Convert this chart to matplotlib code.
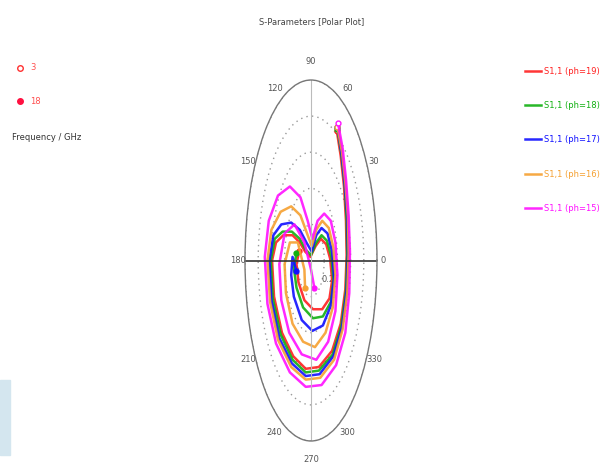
import matplotlib.pyplot as plt
import numpy as np
from matplotlib.lines import Line2D
from matplotlib.patches import Rectangle

labels = ["S1,1 (ph=19)", "S1,1 (ph=18)", "S1,1 (ph=17)", "S1,1 (ph=16)", "S1,1 (ph=15)"]
colors = ["#ff2020", "#10b010", "#1010ff", "#f5a030", "#ff10ff"]

re_19 = [0.39, 0.45, 0.50, 0.53, 0.54, 0.52, 0.45, 0.32, 0.12, -0.08, -0.27, -0.44, -0.56, -0.59,
         -0.53, -0.42, -0.28, -0.17, -0.09, -0.01, 0.07, 0.15, 0.23, 0.29, 0.32, 0.28, 0.17, 0.03,
         -0.10, -0.19, -0.22, -0.18]
im_19 = [0.72, 0.58, 0.41, 0.22, 0.03, -0.16, -0.35, -0.50, -0.59, -0.60, -0.53, -0.40, -0.20, 0.00,
         0.10, 0.14, 0.14, 0.10, 0.05, 0.02, 0.08, 0.12, 0.09, 0.01, -0.11, -0.21, -0.27, -0.27,
         -0.22, -0.12, -0.02, 0.05]

re_18 = [0.40, 0.46, 0.51, 0.54, 0.55, 0.53, 0.46, 0.33, 0.12, -0.08, -0.28, -0.46, -0.58, -0.61,
         -0.55, -0.43, -0.29, -0.17, -0.08, 0.00, 0.08, 0.16, 0.24, 0.31, 0.34, 0.30, 0.18, 0.03,
         -0.12, -0.22, -0.26, -0.22]
im_18 = [0.73, 0.59, 0.42, 0.23, 0.03, -0.17, -0.36, -0.52, -0.61, -0.62, -0.55, -0.41, -0.21, 0.00,
         0.12, 0.16, 0.16, 0.12, 0.06, 0.03, 0.10, 0.14, 0.11, 0.02, -0.11, -0.23, -0.31, -0.32,
         -0.26, -0.15, -0.04, 0.04]

re_17 = [0.40, 0.46, 0.51, 0.55, 0.56, 0.54, 0.47, 0.34, 0.13, -0.08, -0.29, -0.48, -0.60, -0.63,
         -0.57, -0.45, -0.30, -0.17, -0.07, 0.01, 0.08, 0.16, 0.25, 0.32, 0.35, 0.30, 0.18, 0.02,
         -0.14, -0.26, -0.30, -0.28, -0.22]
im_17 = [0.74, 0.60, 0.43, 0.24, 0.04, -0.17, -0.37, -0.53, -0.63, -0.64, -0.57, -0.43, -0.22, 0.00,
         0.14, 0.20, 0.21, 0.17, 0.10, 0.05, 0.14, 0.18, 0.15, 0.05, -0.10, -0.25, -0.36, -0.39,
         -0.33, -0.20, -0.08, 0.02, -0.06]

re_16 = [0.40, 0.47, 0.52, 0.56, 0.57, 0.55, 0.48, 0.35, 0.14, -0.08, -0.30, -0.50, -0.62, -0.66,
         -0.60, -0.46, -0.30, -0.16, -0.06, 0.01, 0.08, 0.17, 0.27, 0.34, 0.37, 0.33, 0.22, 0.06,
         -0.12, -0.28, -0.38, -0.40, -0.32, -0.20, -0.10, -0.09]
im_16 = [0.74, 0.60, 0.43, 0.24, 0.04, -0.18, -0.38, -0.55, -0.65, -0.66, -0.59, -0.44, -0.23, 0.00,
         0.17, 0.27, 0.30, 0.25, 0.15, 0.08, 0.17, 0.22, 0.18, 0.07, -0.08, -0.26, -0.40, -0.48,
         -0.45, -0.35, -0.18, -0.02, 0.10, 0.10, -0.05, -0.15]

re_15 = [0.41, 0.48, 0.53, 0.57, 0.59, 0.58, 0.52, 0.38, 0.16, -0.08, -0.32, -0.53, -0.66, -0.70,
         -0.64, -0.50, -0.32, -0.16, -0.05, 0.02, 0.10, 0.20, 0.30, 0.37, 0.40, 0.37, 0.26, 0.08,
         -0.14, -0.33, -0.45, -0.48, -0.40, -0.25, -0.10, 0.00, 0.05]
im_15 = [0.76, 0.62, 0.45, 0.25, 0.05, -0.18, -0.40, -0.58, -0.69, -0.70, -0.62, -0.46, -0.24, 0.02,
         0.22, 0.36, 0.41, 0.35, 0.22, 0.12, 0.22, 0.26, 0.22, 0.10, -0.08, -0.28, -0.45, -0.55,
         -0.52, -0.40, -0.22, -0.02, 0.15, 0.20, 0.10, -0.05, -0.15]

traces = [(re_19, im_19), (re_18, im_18), (re_17, im_17), (re_16, im_16), (re_15, im_15)]

angle_ticks = [0, 30, 60, 90, 120, 150, 180, 210, 240, 270, 300, 330]
radius_ticks = [0.2, 0.4, 0.6, 0.8, 1.0]

fig = plt.figure(figsize=(6.09, 4.75), dpi=100)
ax = fig.add_axes([245 / 609, 34 / 475, 132 / 609, 361 / 475], projection="polar")
ax.set_aspect("auto")

for (re, im), col, lab in zip(traces, colors, labels):
    s = np.array(re) + 1j * np.array(im)
    ax.plot(np.angle(s), np.abs(s), color=col, lw=1.8, label=lab,
            solid_joinstyle="round", alpha=0.9)
    ax.plot(np.angle(s[0]), np.abs(s[0]), "o", mfc="white", mec=col, ms=3.5, mew=1)
    ax.plot(np.angle(s[-1]), np.abs(s[-1]), "o", color=col, ms=3.5)

ax.set_ylim(0, 1)
ax.set_yticks(radius_ticks)
ax.set_yticklabels(["0.2", "", "", "", ""], fontsize=6, color="#555555")
ax.set_rlabel_position(-40)
ax.yaxis.grid(True, color="#999999", ls=(0, (1, 3)), lw=1.0)
ax.set_xticks([])
ax.spines["polar"].set_color("#777777")
ax.spines["polar"].set_linewidth(1.0)

ax.plot([0, 0], [0, 1], color="#333333", lw=1.2)
ax.plot([np.pi, np.pi], [0, 1], color="#333333", lw=1.2)
ax.plot([np.pi / 2, np.pi / 2], [0, 1], color="#bbbbbb", lw=0.8)
ax.plot([1.5 * np.pi, 1.5 * np.pi], [0, 1], color="#bbbbbb", lw=0.8)

for a in angle_ticks:
    ax.text(np.deg2rad(a), 1.1, str(a), ha="center", va="center", fontsize=6,
            color="#555555", clip_on=False)

fig.text(312 / 609, 1 - 22 / 475, "S-Parameters [Polar Plot]", ha="center", va="center",
         fontsize=6, color="#444444")

fig.legend(handles=ax.lines[0::3], labels=labels, loc="upper left",
           bbox_to_anchor=(517 / 609, 1 - 59 / 475), frameon=False, fontsize=6,
           labelcolor=colors, handlelength=2.0, handletextpad=0.3, labelspacing=3.05)

fig.add_artist(Line2D([20 / 609], [1 - 68 / 475], marker="o", mfc="white", mec="#ff3030",
                      ms=4, transform=fig.transFigure))
fig.add_artist(Line2D([20 / 609], [1 - 101 / 475], marker="o", color="#ff1040",
                      ms=4, transform=fig.transFigure))
fig.text(30 / 609, 1 - 68 / 475, "3", fontsize=6, color="#ff5050", va="center")
fig.text(30 / 609, 1 - 101 / 475, "18", fontsize=6, color="#ff5050", va="center")
fig.text(12 / 609, 1 - 138 / 475, "Frequency / GHz", fontsize=6, color="#333333", va="center")

fig.add_artist(Rectangle((0, 1 - 455 / 475), 10 / 609, 75 / 475, color="#d4e6ef",
                         transform=fig.transFigure))

fig.savefig("out.png", dpi=100)
